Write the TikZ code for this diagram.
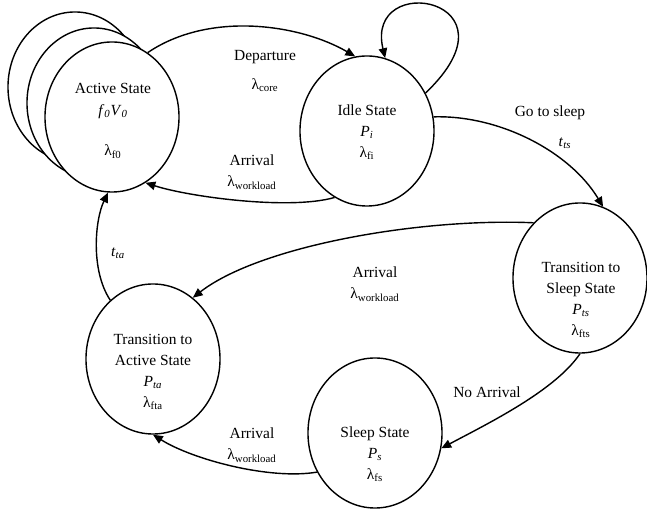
\documentclass[tikz,border=0pt]{standalone}
\usepackage{fontspec}
\setmainfont{Liberation Serif}
\usetikzlibrary{shapes.geometric,arrows.meta}
\newcommand{\lsub}[1]{λ\textsubscript{#1}}
\newcommand{\isub}[2]{\textit{#1}\textsubscript{\textit{#2}}}
\tikzset{
  state/.style={draw,ellipse,line width=1pt,fill=white,inner sep=0pt,minimum width=3.35cm,minimum height=3.75cm},
  txt/.style={align=center,inner sep=1pt,font=\fontsize{11}{15}\selectfont},
  trans/.style={line width=1pt,-{Triangle[length=7pt,width=6pt]}}
}
\begin{document}
\begin{tikzpicture}[x=0.025cm,y=-0.025cm]
  \useasboundingbox (0,0) rectangle (647,510);
  % states
  \node[state] (active3) at (75,87) {};
  \node[state] (active2) at (94,103) {};
  \node[state] (active) at (112,117) {};
  \node[state] (idle) at (367,131) {};
  \node[state] (tsleep) at (580,278) {};
  \node[state] (tactive) at (153,359) {};
  \node[state] (sleep) at (375,433) {};
  \node[txt] (activetxt) at (113,121) {Active State\\ \isub{f}{0}\isub{V}{0}\\[14pt] \lsub{f0}};
  \node[txt] (idletxt) at (367,132) {Idle State\\ \isub{P}{i}\\ \lsub{fi}};
  \node[txt] (tsleeptxt) at (581,300) {Transition to\\ Sleep State\\ \isub{P}{ts}\\ \lsub{fts}};
  \node[txt] (tactivetxt) at (153,372) {Transition to\\ Active State\\ \isub{P}{ta}\\ \lsub{fta}};
  \node[txt] (sleeptxt) at (375,454) {Sleep State\\ \isub{P}{s}\\ \lsub{fs}};
  % transitions
  \draw[trans] (active.61) .. controls +(62,-42) and +(-55,-32) .. (idle.99);
  \draw[trans] (idle.33) .. controls +(100,-95) and +(-21,-88) .. (idle.76);
  \draw[trans] (idle.-116) .. controls +(-45,13) and +(43,14) .. (active.-63);
  \draw[trans] (idle.12) .. controls +(66,-2) and +(-33,-55) .. (tsleep.72);
  \draw[trans] (tsleep.130) .. controls +(-113,-5) and +(67,-52) .. (tactive.57);
  \draw[trans] (tsleep.-90) .. controls +(-25,37) and +(47,-25) .. (sleep.-13);
  \draw[trans] (sleep.-146) .. controls +(-47,8) and +(40,25) .. (tactive.-90);
  \draw[trans] (tactive.126) .. controls +(-20,-30) and +(-13,27) .. (active.-93);
  % labels
  \node[txt] (departure) at (265,71) {Departure\\[6pt] \lsub{core}};
  \node[txt] (arrival1) at (252,172) {Arrival\\ \lsub{workload}};
  \node[txt] (gosleep) at (550,113) {Go to sleep};
  \node[txt] (tts) at (565,143) {\isub{t}{ts}};
  \node[txt] (arrival2) at (375,284) {Arrival\\ \lsub{workload}};
  \node[txt] (noarrival) at (487,392) {No Arrival};
  \node[txt] (arrival3) at (252,445) {Arrival\\ \lsub{workload}};
  \node[txt] (tta) at (118,253) {\isub{t}{ta}};
\end{tikzpicture}
\end{document}
